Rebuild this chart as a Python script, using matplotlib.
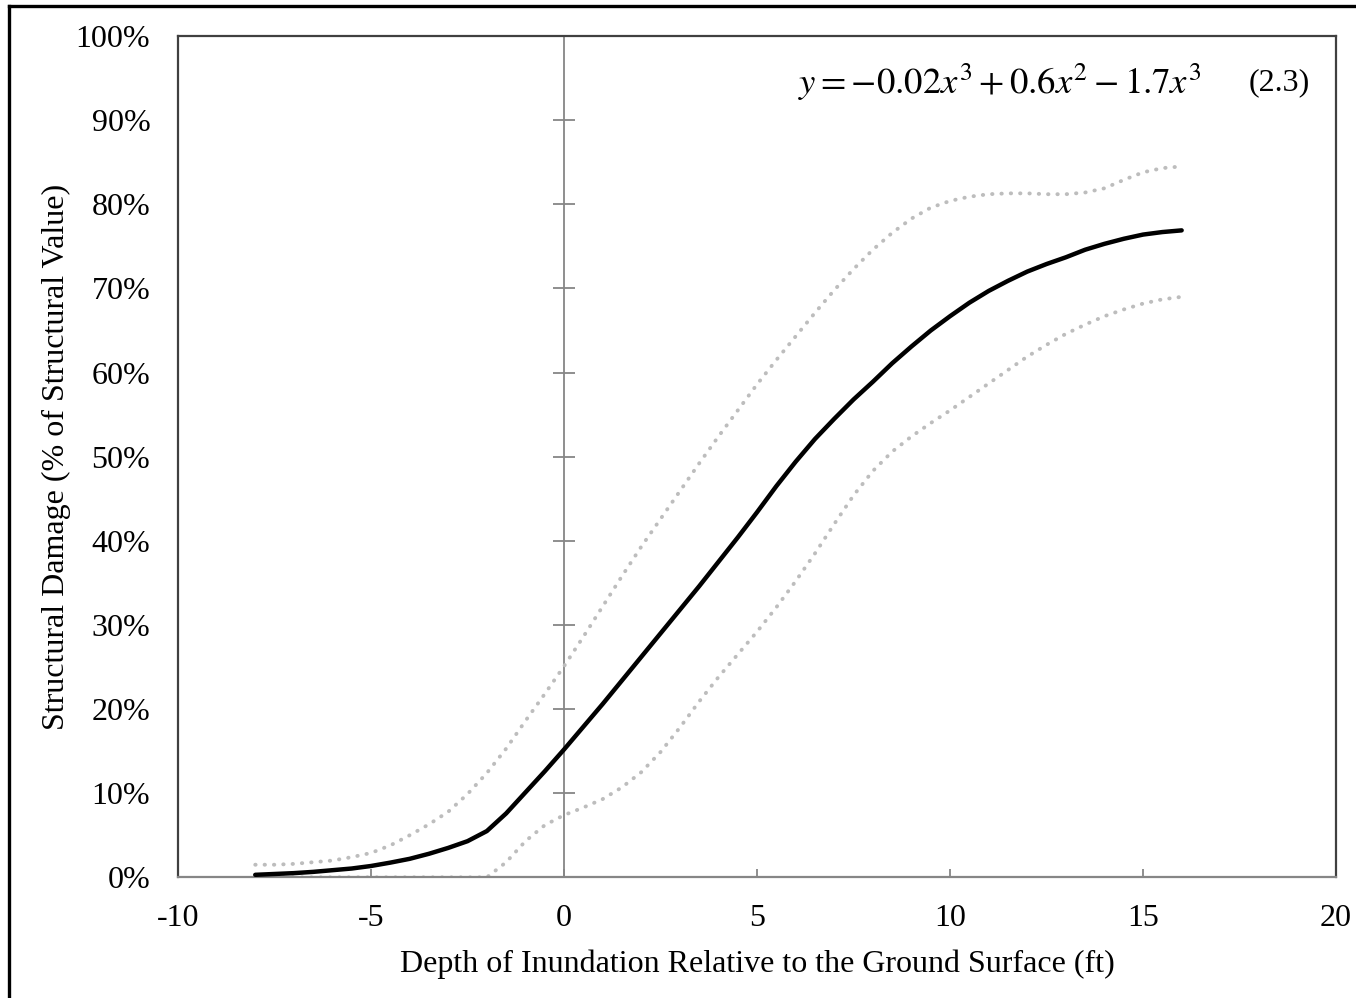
import numpy as np
import matplotlib
matplotlib.use("Agg")
import matplotlib.pyplot as plt
from matplotlib.lines import Line2D

# data (depth in ft, damage in %), every half foot
depth = [-8, -7.5, -7, -6.5, -6, -5.5, -5, -4.5, -4, -3.5, -3, -2.5, -2,
         -1.5, -1, -0.5, 0, 0.5, 1, 1.5, 2, 2.5, 3, 3.5, 4, 4.5, 5, 5.5,
         6, 6.5, 7, 7.5, 8, 8.5, 9, 9.5, 10, 10.5, 11, 11.5, 12, 12.5,
         13, 13.5, 14, 14.5, 15, 15.5, 16]
damage_mean = [0.3, 0.4, 0.5, 0.65, 0.85, 1.05, 1.35, 1.75, 2.2, 2.8, 3.5,
               4.3, 5.5, 7.6, 10.1, 12.6, 15.2, 17.9, 20.6, 23.4, 26.2,
               29.0, 31.8, 34.6, 37.5, 40.4, 43.4, 46.5, 49.4, 52.1, 54.5,
               56.8, 58.9, 61.1, 63.1, 65.0, 66.7, 68.3, 69.7, 70.9, 72.0,
               72.9, 73.7, 74.6, 75.3, 75.9, 76.4, 76.7, 76.9]
damage_upper = [1.5, 1.5, 1.6, 1.8, 2.0, 2.4, 2.9, 3.8, 5.0, 6.3, 7.8, 9.9,
                12.4, 15.3, 18.6, 21.8, 25.1, 28.6, 32.2, 35.8, 39.3, 42.6,
                45.9, 49.2, 52.4, 55.5, 58.6, 61.5, 64.3, 67.1, 69.8, 72.3,
                74.6, 76.6, 78.3, 79.6, 80.4, 80.9, 81.2, 81.3, 81.3, 81.2,
                81.2, 81.4, 81.9, 82.9, 83.8, 84.3, 84.5]
damage_lower = [0, 0, 0, 0, 0, 0, 0, 0, 0, 0, 0, 0, 0, 1.8, 4.3, 6.2, 7.4,
                8.3, 9.3, 10.7, 12.5, 14.9, 17.8, 20.9, 23.8, 26.5, 29.2,
                32.1, 35.2, 38.5, 42.0, 45.4, 48.3, 50.6, 52.4, 54.0, 55.5,
                57.1, 58.7, 60.3, 61.9, 63.3, 64.6, 65.7, 66.7, 67.5, 68.2,
                68.7, 69.0]

xticks = [-10, -5, 0, 5, 10, 15, 20]
yticks = [0, 10, 20, 30, 40, 50, 60, 70, 80, 90, 100]
ytick_labels = [f"{v}%" for v in yticks]

plt.rcParams['font.family'] = ['Liberation Serif', 'DejaVu Serif']
plt.rcParams['mathtext.fontset'] = 'stix'

fig = plt.figure(figsize=(13.56, 9.98), dpi=100)
ax = fig.add_axes([0.1313, 0.1209, 0.8540, 0.8430])

axis_grey = '#868686'
frame_col = '#404040'

# zero line with cross ticks
ax.axvline(0, color=axis_grey, lw=1.3, zorder=1)
ax.plot(np.zeros(len(yticks)), yticks, ls='', marker='_', ms=16,
        mew=1.3, color=axis_grey, zorder=1)

ax.plot(depth, damage_upper, color='#BDBDBD', lw=2.8,
        ls=(0, (0.1, 2.3)), dash_capstyle='round', zorder=2)
ax.plot(depth, damage_lower, color='#BDBDBD', lw=2.8,
        ls=(0, (0.1, 2.3)), dash_capstyle='round', zorder=2)
ax.plot(depth, damage_mean, color='black', lw=3.2, zorder=3,
        solid_capstyle='round', solid_joinstyle='round')

ax.set_xlim(-10, 20)
ax.set_ylim(0, 100)
ax.set_xticks(xticks)
ax.set_xticklabels([str(v) for v in xticks], fontsize=23)
ax.set_yticks(yticks)
ax.set_yticklabels(ytick_labels, fontsize=23)

ax.tick_params(axis='x', direction='in', length=6, width=1.3,
               color=axis_grey, pad=19)
ax.tick_params(axis='y', length=0, pad=20)

for side in ['left', 'top', 'right']:
    ax.spines[side].set_color(frame_col)
    ax.spines[side].set_linewidth(1.6)
ax.spines['bottom'].set_color(axis_grey)
ax.spines['bottom'].set_linewidth(1.6)

ax.set_xlabel('Depth of Inundation Relative to the Ground Surface (ft)',
              fontsize=23, labelpad=12)
ax.set_ylabel('Structural Damage (% of Structural Value)', fontsize=23,
              labelpad=3)

ax.text(0.5355, 0.945,
        r'$y=-0.02x^3+0.6x^2-1.7x^3$',
        transform=ax.transAxes, fontsize=26.5, va='center', ha='left')
ax.text(0.977, 0.945, '(2.3)', transform=ax.transAxes, fontsize=23,
        va='center', ha='right')

# outer border of the figure
fig.add_artist(Line2D([0.0068, 0.0068], [0, 0.9935], color='black', lw=2.4,
                      transform=fig.transFigure))
fig.add_artist(Line2D([0.0068, 1], [0.9935, 0.9935], color='black', lw=2.4,
                      transform=fig.transFigure))

fig.savefig('out.png', dpi=100)
